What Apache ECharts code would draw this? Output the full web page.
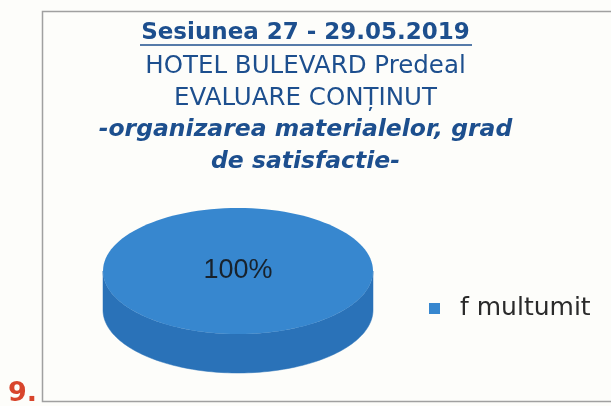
<!DOCTYPE html>
<html>
<head>
<meta charset="UTF-8">
<title></title>
<style>
  html, body { margin: 0; padding: 0; background: #fdfdfa; }
  #main { width: 611px; height: 406px; }
</style>
</head>
<body>
<div id="main"></div>
<script src="https://cdn.jsdelivr.net/npm/echarts@6/dist/echarts.min.js"></script>
<script>
// chart data
var titleLines = ['Sesiunea 27 - 29.05.2019', 'HOTEL BULEVARD Predeal', 'EVALUARE CONȚINUT',
                  '-organizarea materialelor, grad', 'de satisfactie-'];
var categories = ['f multumit'];
var values = [100];
var pageNumber = '9.';

// look of the 3d pie (layout only)
var pie = { cx: 238, cy: 271, rx: 135, ry: 63, depth: 39 };
var topColors = ['#3787cf'];
var sideColors = ['#2a72b8'];

var total = values.reduce(function (a, b) { return a + b; }, 0);

function arcPts(a0, a1, cy) {
  var pts = [];
  var n = Math.max(2, Math.ceil(Math.abs(a1 - a0) / 0.03));
  for (var i = 0; i <= n; i++) {
    var a = a0 + (a1 - a0) * i / n;
    pts.push([pie.cx + pie.rx * Math.cos(a), cy + pie.ry * Math.sin(a)]);
  }
  return pts;
}

function renderSlice(params, api) {
  var idx = api.value(0);
  var v = api.value(1);
  var before = 0;
  for (var i = 0; i < idx; i++) before += values[i];
  var frac = v / total;
  var a0 = -Math.PI / 2 + before / total * 2 * Math.PI;
  var a1 = a0 + frac * 2 * Math.PI;
  var kids = [];

  // front side wall (only where the rim faces us)
  var s0 = Math.max(a0, 0), s1 = Math.min(a1, Math.PI);
  if (s1 > s0) {
    var up = arcPts(s0, s1, pie.cy);
    var down = arcPts(s1, s0, pie.cy + pie.depth);
    kids.push({ type: 'polygon', shape: { points: up.concat(down) },
      style: { fill: sideColors[idx], stroke: sideColors[idx], lineWidth: 0.5 } });
  }

  // top face
  if (frac > 0.999) {
    kids.push({ type: 'ellipse', shape: { cx: pie.cx, cy: pie.cy, rx: pie.rx, ry: pie.ry },
      style: { fill: topColors[idx] } });
  } else {
    kids.push({ type: 'polygon', shape: { points: [[pie.cx, pie.cy]].concat(arcPts(a0, a1, pie.cy)) },
      style: { fill: topColors[idx] } });
  }

  var mid = (a0 + a1) / 2;
  var r = frac > 0.999 ? 0 : 0.6;
  kids.push({ type: 'text',
    style: { text: Math.round(frac * 100) + '%',
      x: pie.cx + pie.rx * r * Math.cos(mid), y: pie.cy + pie.ry * r * Math.sin(mid),
      align: 'center', verticalAlign: 'middle',
      font: '27px "Liberation Sans"', fill: '#18222c' } });
  return { type: 'group', children: kids };
}

var titleTops = [17, 49, 81, 113, 145];
var titleStyles = [
  { fontWeight: 'bold', fontStyle: 'normal', size: 23 },
  { fontWeight: 'normal', fontStyle: 'normal', size: 24.5 },
  { fontWeight: 'normal', fontStyle: 'normal', size: 24.5 },
  { fontWeight: 'bold', fontStyle: 'italic', size: 23.5 },
  { fontWeight: 'bold', fontStyle: 'italic', size: 23.5 }
];

var myChart = echarts.init(document.getElementById('main'));
myChart.setOption({
  backgroundColor: '#fdfdfa',
  animation: false,
  title: titleLines.map(function (t, i) {
    return {
      text: t, left: 'center', top: titleTops[i],
      textStyle: { fontFamily: 'DejaVu Sans', fontSize: titleStyles[i].size, color: '#1d4f8e',
        fontWeight: titleStyles[i].fontWeight, fontStyle: titleStyles[i].fontStyle }
    };
  }),
  legend: {
    left: 424, top: 291, orient: 'vertical',
    itemWidth: 11, itemHeight: 11, icon: 'rect',
    data: categories,
    textStyle: { fontFamily: 'DejaVu Sans', fontSize: 25, color: '#2a2a2a', padding: [0, 0, 0, 15] }
  },
  graphic: [
    { type: 'rect', shape: { x: 42.5, y: 11.5, width: 640, height: 390 },
      style: { fill: null, stroke: '#a0a0a0', lineWidth: 1.5 }, silent: true },
    { type: 'line', shape: { x1: 140, y1: 45, x2: 472, y2: 45 },
      style: { stroke: '#1d4f8e', lineWidth: 1.5 } },
    { type: 'text', left: 8, top: 380,
      style: { text: pageNumber, font: 'bold 27px "DejaVu Sans"', fill: '#d8452c' } }
  ],
  series: categories.map(function (c, i) {
    return {
      type: 'custom', name: c, coordinateSystem: 'none',
      itemStyle: { color: topColors[i] },
      data: [[i, values[i]]],
      renderItem: renderSlice
    };
  })
});
</script>
</body>
</html>
